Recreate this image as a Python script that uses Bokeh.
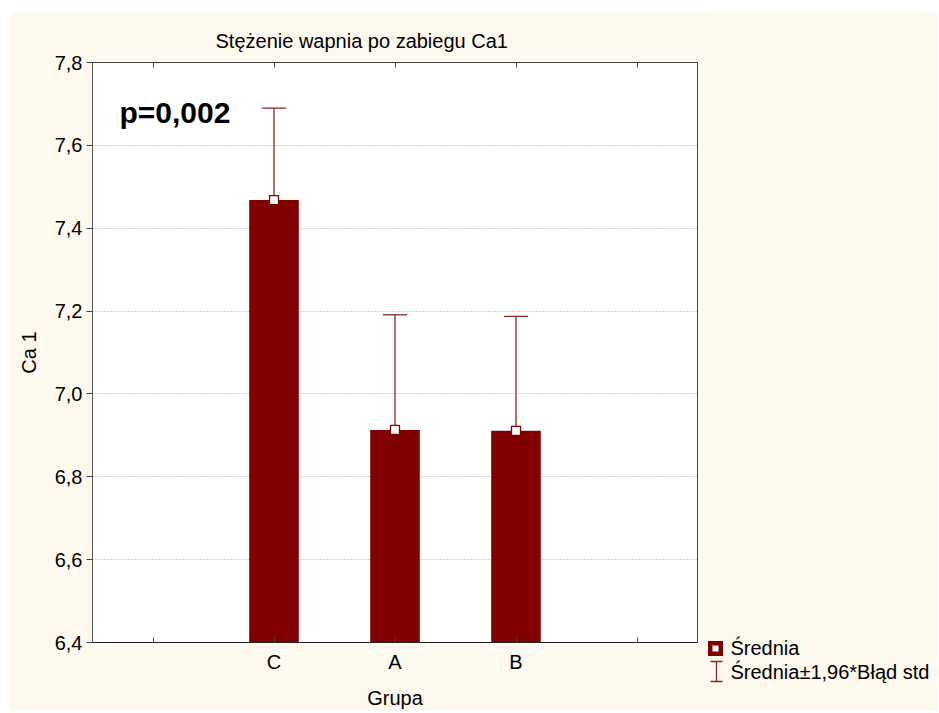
from bokeh.plotting import figure
from bokeh.models import (Range1d, FixedTicker, LinearAxis, CustomJSTickFormatter,
                          Label, ColumnDataSource, Spacer)
from bokeh.layouts import row, column
from bokeh.embed import file_html
from bokeh.resources import INLINE
from bokeh.core.properties import value

# ---- data ----
categories = ["C", "A", "B"]
means = [7.468, 6.913, 6.911]
ci_half = [0.222, 0.278, 0.276]   # 1.96 * standard error
y_ticks = [6.4, 6.6, 6.8, 7.0, 7.2, 7.4, 7.6, 7.8]
title_text = "Stężenie wapnia po zabiegu Ca1"
p_text = "p=0,002"
legend_labels = ["Średnia", "Średnia±1,96*Błąd std"]

FONT = "Liberation Sans"
BG = "#FDF9EF"
BAR = "#800000"
WHISK = "#8B2828"

slots = list(range(1, len(categories) + 3))          # empty slot, C, A, B, empty slot
xs = [i + 2 for i in range(len(categories))]
uppers = [m + c for m, c in zip(means, ci_half)]
lowers = [m - c for m, c in zip(means, ci_half)]
src = ColumnDataSource(dict(x=xs, mean=means, upper=uppers, lower=lowers,
                            cap0=[x - 0.1 for x in xs], cap1=[x + 0.1 for x in xs]))

# layout geometry (page pixels)
OX, OY = 9, 12                      # white strip left / top
FL, FT, FR, FB = 92, 62, 697, 643   # frame edges
W_MAIN, W_LEG, H = 691, 238, 699

x_lo, x_hi = 0.5, len(slots) + 0.5
y_lo, y_hi = y_ticks[0], y_ticks[-1]

def px_x(px):
    return x_lo + (px - FL) * (x_hi - x_lo) / (FR - FL)

def px_y(py):
    return y_hi - (py - FT) * (y_hi - y_lo) / (FB - FT)

p = figure(width=W_MAIN, height=H, output_backend="svg", toolbar_location=None,
           x_range=Range1d(x_lo, x_hi), y_range=Range1d(y_lo, y_hi),
           min_border_left=FL - OX, min_border_top=FT - OY,
           min_border_bottom=OY + H - FB, min_border_right=OX + W_MAIN - FR)
p.frame_align = False
p.background_fill_color = "white"
p.border_fill_color = BG
p.outline_line_color = "#444444"
p.outline_line_width = 1

p.title.text = title_text
p.title.align = "left"
p.title.offset = 215 - FL
p.title.text_font = FONT
p.title.text_font_size = "20px"
p.title.text_font_style = "normal"
p.title.text_color = "black"
p.title.standoff = 22

# bottom axis
xa = p.xaxis[0]
xa.ticker = FixedTicker(ticks=xs, minor_ticks=slots)
xa.major_label_overrides = {x: c for x, c in zip(xs, categories)}
xa.major_tick_in = 5
xa.major_tick_out = 0
xa.minor_tick_in = 5
xa.minor_tick_out = 0
xa.minor_tick_line_color = "#444444"
xa.axis_line_color = "#222222"
xa.major_tick_line_color = "#444444"
xa.major_label_text_font = FONT
xa.major_label_text_font_size = "20px"
xa.major_label_text_color = "black"
xa.major_label_standoff = 8
xa.axis_label = "Grupa"
xa.axis_label_text_font = FONT
xa.axis_label_text_font_size = "20px"
xa.axis_label_text_font_style = "normal"
xa.axis_label_text_color = "black"
xa.axis_label_standoff = 11

# top axis: ticks only
top = LinearAxis(ticker=FixedTicker(ticks=[], minor_ticks=slots),
                 major_tick_in=5, major_tick_out=0, minor_tick_in=5, minor_tick_out=0,
                 minor_tick_line_color="#444444", axis_line_color="#444444",
                 major_tick_line_color="#444444", major_label_standoff=0)
p.add_layout(top, "above")

ya = p.yaxis[0]
ya.ticker = FixedTicker(ticks=y_ticks)
ya.formatter = CustomJSTickFormatter(code="return tick.toFixed(1).replace('.', ',');")
ya.major_tick_in = 0
ya.major_tick_out = 6
ya.minor_tick_line_color = None
ya.axis_line_color = "#555555"
ya.major_tick_line_color = "#444444"
ya.major_label_text_font = FONT
ya.major_label_text_font_size = "20px"
ya.major_label_text_color = "black"
ya.major_label_standoff = 4
ya.axis_label = "Ca 1"
ya.axis_label_text_font = FONT
ya.axis_label_text_font_size = "20px"
ya.axis_label_text_font_style = "normal"
ya.axis_label_text_color = "black"
ya.axis_label_standoff = 12

p.xgrid.grid_line_color = None
p.ygrid.ticker = FixedTicker(ticks=y_ticks)
p.ygrid.grid_line_color = "#A8A8A8"
p.ygrid.grid_line_dash = "1 2"

# whiskers (drawn under bars), bars, caps, mean markers
p.segment(x0="x", y0="lower", x1="x", y1="upper", source=src, line_color=WHISK, line_width=1.3)
p.vbar(x="x", top="mean", bottom=y_lo, width=0.41, source=src,
       fill_color=BAR, line_color=None)
p.segment(x0="cap0", y0="upper", x1="cap1", y1="upper", source=src, line_color=WHISK, line_width=1.3)
p.scatter(x="x", y="mean", source=src, marker="square", size=9,
          fill_color="white", line_color=BAR, line_width=1.3)

p.add_layout(Label(x=px_x(119), y=px_y(112), text=p_text, text_font=FONT,
                   text_font_size="30px", text_font_style="bold",
                   text_baseline="middle", text_color="black"))

# ---- legend panel: its frame covers the whole panel, coordinates = page pixels ----
LX0 = OX + W_MAIN
lg = figure(width=W_LEG, height=H, output_backend="svg", toolbar_location=None,
            x_range=Range1d(LX0, LX0 + W_LEG), y_range=Range1d(OY + H, OY),
            x_axis_type=None, y_axis_type=None, min_border=0, title_location=None)
lg.frame_align = False
lg.background_fill_color = BG
lg.border_fill_color = BG
lg.outline_line_color = None
lg.xgrid.visible = False
lg.ygrid.visible = False
lg.rect(x=[715], y=[648], width=15, height=15, fill_color=BAR, line_color=None)
lg.rect(x=[715], y=[648], width=6, height=6, fill_color="white", line_color=None)
lg.segment(x0=[716], y0=[661], x1=[716], y1=[681], line_color=WHISK, line_width=1.3)
lg.segment(x0=[710, 710], y0=[661, 681], x1=[722, 722], y1=[661, 681],
           line_color=WHISK, line_width=1.3)
lg.text(x=[730, 730], y=[647, 671], text=legend_labels, text_font=value(FONT),
        text_font_size="20px", text_baseline="middle", text_color="black")

layout = column(Spacer(height=OY), row(Spacer(width=OX), p, lg, spacing=0), spacing=0)
open("out.html", "w").write(file_html(layout, INLINE))
